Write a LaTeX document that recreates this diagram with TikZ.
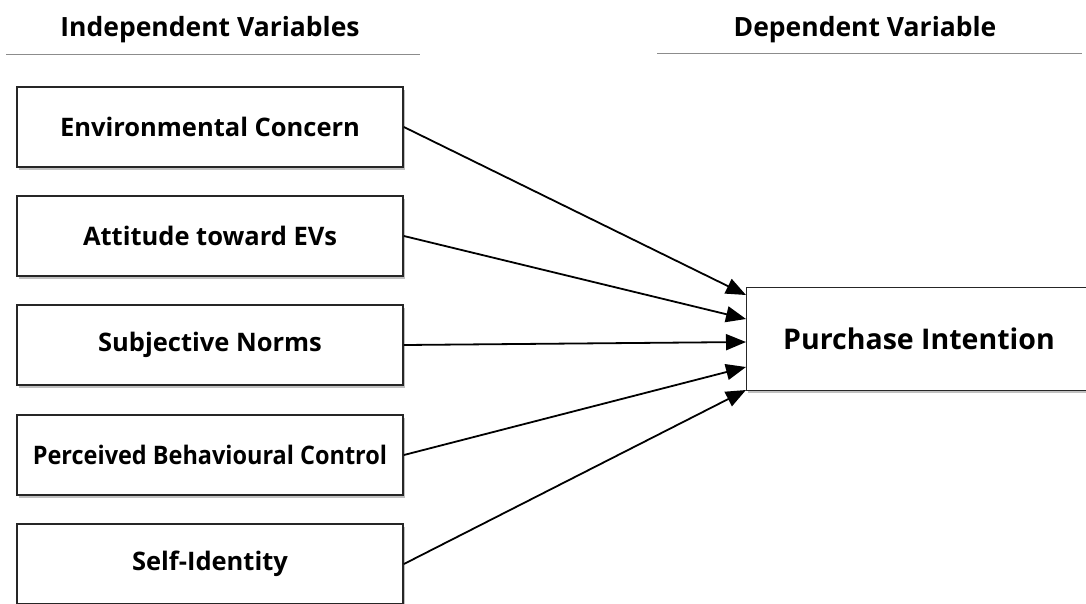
\documentclass[tikz,border=0pt]{standalone}
\usepackage{fontspec}
\setmainfont{Open Sans}
\newfontfamily\condfont[FakeStretch=0.92]{Open Sans}
\usetikzlibrary{arrows.meta,shadows}
\begin{document}
\begin{tikzpicture}[x=1pt,y=-1pt,
  varbox/.style={draw=black!85,line width=1.8pt,fill=white,
    drop shadow={shadow xshift=1.5pt,shadow yshift=-2.5pt,opacity=0.45,fill=black!55},
    minimum width=386pt,minimum height=80pt,inner sep=0pt,
    font=\bfseries\fontsize{25.5}{30}\selectfont},
  target/.style={varbox,minimum width=345pt,minimum height=103pt,
    font=\bfseries\fontsize{28.5}{33}\selectfont},
  header/.style={font=\bfseries\fontsize{26.5}{30}\selectfont},
  rule/.style={draw=black!45,line width=1pt},
  link/.style={draw=black,line width=1.8pt,-{Triangle[length=20pt,width=16pt]}}]
\useasboundingbox (0,0) rectangle (1086,603);
\begin{scope}
\clip (0,0) rectangle (1086,603);
% column headings
\node[header] (hin) at (210,30) {Independent Variables};
\node[header] (hdep) at (865,30) {Dependent Variable};
\draw[rule] (6,54) -- (420,54);
\draw[rule] (657,53) -- (1082,53);
% predictors
\node[varbox] (ec) at (210,127) {Environmental Concern};
\node[varbox] (att) at (210,236) {Attitude toward EVs};
\node[varbox] (sn) at (210,345) {Subjective Norms};
\node[varbox] (pbc) at (210,455) {\condfont\bfseries Perceived Behavioural Control};
\node[varbox] (si) at (210,564) {Self-Identity};
% outcome
\node[target] (pi) at (919,339) {Purchase Intention};
% paths
\coordinate (t1) at (746,295);
\coordinate (t2) at (746,319);
\coordinate (t3) at (746,342);
\coordinate (t4) at (746,367);
\coordinate (t5) at (746,390);
\draw[link] (ec.east) -- (t1);
\draw[link] (att.east) -- (t2);
\draw[link] (sn.east) -- (t3);
\draw[link] (pbc.east) -- (t4);
\draw[link] (si.east) -- (t5);
\end{scope}
\end{tikzpicture}
\end{document}
